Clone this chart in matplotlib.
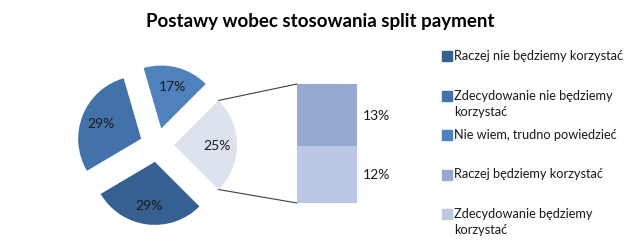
import matplotlib.pyplot as plt
from matplotlib.patches import ConnectionPatch
import numpy as np

plt.rcParams['font.family'] = ['Lato', 'DejaVu Sans']

# pie slices (main pie) and the split bar ("będziemy korzystać" answers)
pie_labels = ['Raczej nie będziemy korzystać',
              'Zdecydowanie nie będziemy\nkorzystać',
              'Nie wiem, trudno powiedzieć']
pie_values = [29, 29, 17]
pie_colors = ['#376092', '#4372AA', '#4F81BD']

bar_labels = ['Raczej będziemy korzystać',
              'Zdecydowanie będziemy\nkorzystać']
bar_values = [13, 12]
bar_colors = ['#95A9D1', '#BCC8E2']
other_color = '#DCE3EF'

title = 'Postawy wobec stosowania split payment'

fig = plt.figure(figsize=(6.4, 2.53), dpi=100)
fig.text(0.501, 0.915, title, ha='center', va='center',
         fontsize=13.5, fontweight='bold', color='#000000')

# ---- pie ----
ax1 = fig.add_axes([57 / 640, 7 / 253, 200 / 640, 200 / 253])
other = sum(bar_values)
vals = [other] + pie_values[::-1]       # counter-clockwise from -45 deg
cols = [other_color] + pie_colors[::-1]
wedges, texts, autotexts = ax1.pie(
    vals, colors=cols, startangle=-45, counterclock=True,
    explode=[0.27] * len(vals), radius=1.0,
    autopct='%d%%', pctdistance=0.69,
    textprops={'fontsize': 10, 'color': '#1a1a1a'})
ax1.set_xlim(-100 / 63, 100 / 63)
ax1.set_ylim(-100 / 63, 100 / 63)
ax1.set_aspect('equal')
ax1.axis('off')

# ---- bar ----
ax2 = fig.add_axes([297 / 640, 49 / 253, 60 / 640, 119 / 253])
bottom = 0
for v, c in zip(bar_values[::-1], bar_colors[::-1]):
    ax2.bar(0.5, v, width=1.0, bottom=bottom, color=c, edgecolor='none')
    ax2.text(1.33, bottom + v / 2, '%d%%' % v, ha='center', va='center',
             fontsize=10, color='#1a1a1a', clip_on=False)
    bottom += v
ax2.set_xlim(0, 1)
ax2.set_ylim(0, other)
ax2.axis('off')

# connector lines from the "other" wedge to the bar
w = wedges[0]
cx, cy = w.center
for th, yb in [(w.theta2, other), (w.theta1, 0)]:
    x = cx + w.r * np.cos(np.radians(th))
    y = cy + w.r * np.sin(np.radians(th))
    con = ConnectionPatch(xyA=(x, y), coordsA=ax1.transData,
                          xyB=(0, yb), coordsB=ax2.transData,
                          color='#404040', linewidth=0.8)
    fig.add_artist(con)

# ---- legend ----
ax3 = fig.add_axes([0, 0, 1, 1], zorder=-1)
ax3.set_xlim(0, 640)
ax3.set_ylim(253, 0)
ax3.axis('off')
leg_labels = pie_labels + bar_labels
leg_colors = pie_colors + bar_colors
for i, (lab, c) in enumerate(zip(leg_labels, leg_colors)):
    y = 57 + i * 39.5
    ax3.plot(447, y, marker='s', markersize=6.5, color=c, linestyle='none')
    ax3.text(454, y - 7, lab, ha='left', va='top', fontsize=9.2,
             color='#1a1a1a', linespacing=1.45)

fig.savefig('out.png', dpi=100)
